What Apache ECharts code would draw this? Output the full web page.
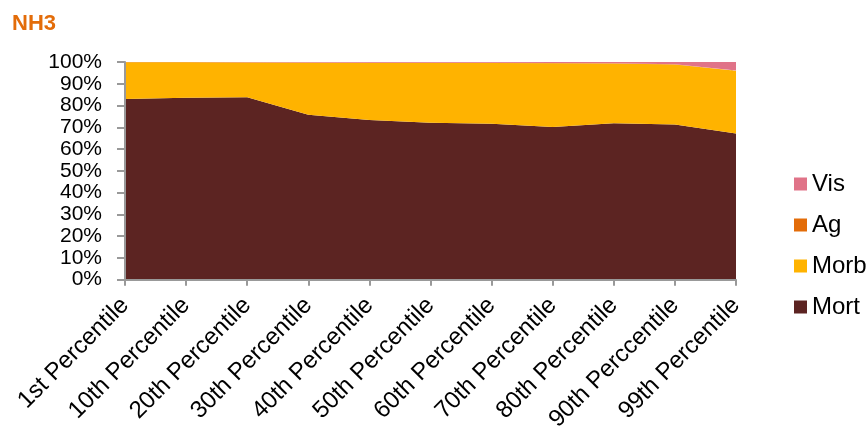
<!DOCTYPE html>
<html>
<head>
<meta charset="utf-8">
<style>
  html, body { margin: 0; padding: 0; background: #fff; }
  #chart { width: 868px; height: 434px; }
</style>
<script src="https://cdn.jsdelivr.net/npm/echarts@6/dist/echarts.min.js"></script>
</head>
<body>
<div id="chart"></div>
<script>
// Percentile categories along the x axis
const categories = [
  '1st Percentile', '10th Percentile', '20th Percentile', '30th Percentile',
  '40th Percentile', '50th Percentile', '60th Percentile', '70th Percentile',
  '80th Percentile', '90th Perccentile', '99th Percentile'
];

// Share of each endpoint (%), stacked to 100
const mort = [83.0, 83.6, 83.8, 75.8, 73.4, 72.1, 71.6, 70.1, 71.9, 71.3, 67.1];
const ag   = [0.1, 0.1, 0.1, 0.1, 0.1, 0.1, 0.1, 0.1, 0.1, 0.1, 0.1];
const vis  = [0.0, 0.0, 0.1, 0.2, 0.3, 0.3, 0.4, 0.5, 0.6, 1.0, 3.9];
const morb = mort.map((m, i) => +(100 - m - ag[i] - vis[i]).toFixed(1));

const yTicks = [0, 10, 20, 30, 40, 50, 60, 70, 80, 90, 100];

const colors = { Mort: '#5C2422', Morb: '#FFB300', Ag: '#E36C09', Vis: '#E07388' };
const font = '"Liberation Sans", Arial, sans-serif';

function areaSeries(name, data) {
  return {
    name, type: 'line', stack: 'total', data,
    symbol: 'none', smooth: false,
    lineStyle: { width: 0 },
    itemStyle: { color: colors[name] },
    areaStyle: { color: colors[name], opacity: 1 }
  };
}

const chart = echarts.init(document.getElementById('chart'), null, { renderer: 'canvas' });
chart.setOption({
  animation: false,
  title: {
    text: 'NH3', left: 7, top: 8,
    textStyle: { color: '#E36C09', fontSize: 22, fontWeight: 'bold', fontFamily: font }
  },
  grid: { left: 125, right: 132, top: 62, bottom: 151, containLabel: false },
  legend: {
    orient: 'vertical', left: 789, top: 167,
    itemWidth: 13, itemHeight: 13, itemGap: 17,
    icon: 'rect',
    data: ['Vis', 'Ag', 'Morb', 'Mort'],
    textStyle: { fontSize: 24, color: '#000', fontFamily: font }
  },
  xAxis: {
    type: 'category', data: categories, boundaryGap: false, z: 5,
    axisLine: { lineStyle: { color: '#999', width: 2 } },
    axisTick: { show: true, alignWithLabel: true, length: 6, lineStyle: { color: '#999', width: 2 } },
    axisLabel: {
      interval: 0, rotate: 45, margin: 22, color: '#000',
      fontSize: 24, fontFamily: font, hideOverlap: false
    },
    splitLine: { show: false }
  },
  yAxis: {
    type: 'value', min: yTicks[0], max: yTicks[yTicks.length - 1], interval: 10, z: 5,
    axisLine: { show: true, lineStyle: { color: '#999', width: 2 } },
    axisTick: { show: true, length: 8, lineStyle: { color: '#999', width: 2 } },
    axisLabel: {
      margin: 23, color: '#000', fontSize: 21, fontFamily: font,
      formatter: v => v + '%'
    },
    splitLine: { show: false }
  },
  series: [
    areaSeries('Mort', mort),
    areaSeries('Morb', morb),
    areaSeries('Ag', ag),
    areaSeries('Vis', vis)
  ]
});
</script>
</body>
</html>
